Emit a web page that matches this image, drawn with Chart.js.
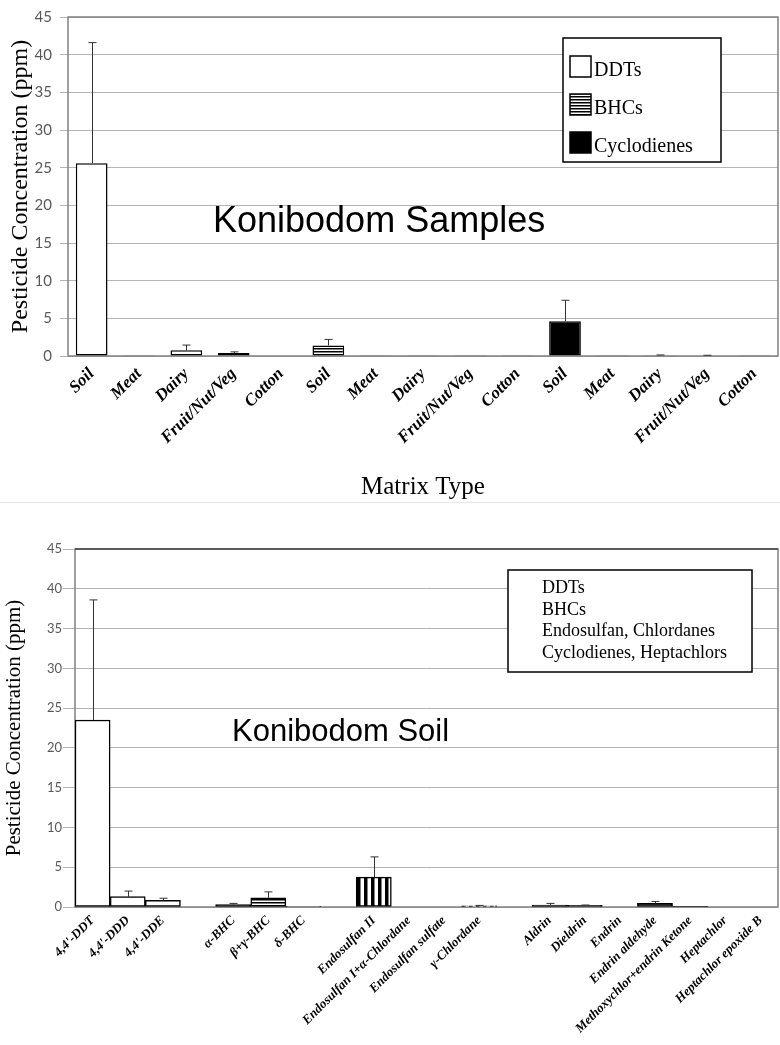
<!DOCTYPE html>
<html>
<head>
<meta charset="utf-8">
<script src="https://cdn.jsdelivr.net/npm/chart.js@4.4.0/dist/chart.umd.min.js"></script>
<style>
  body { margin: 0; background: #fff; }
  canvas { display: block; }
  .sep { height: 1px; background: #e8e8e8; }
</style>
</head>
<body>
<canvas id="samples" width="780" height="502"></canvas>
<div class="sep"></div>
<canvas id="soil" width="780" height="542"></canvas>
<script>
// ---- top chart: Konibodom samples ----
const matrixTypes = ['Soil', 'Meat', 'Dairy', 'Fruit/Nut/Veg', 'Cotton'];
const sampleLabels = matrixTypes.concat(matrixTypes, matrixTypes);
const ddtSamples = [25.6, 0.1, 0.75, 0.4, 0.05];
const ddtSamplesErr = [16.0, 0, 0.7, 0.15, 0];
const bhcSamples = [1.4, 0.02, 0.02, 0.02, 0.02];
const bhcSamplesErr = [0.8, 0, 0, 0, 0];
const cycloSamples = [4.6, 0.03, 0.1, 0.08, 0.02];
const cycloSamplesErr = [2.8, 0, 0.04, 0.02, 0];

// ---- bottom chart: Konibodom soil ----
const soilLabels = ["4,4'-DDT", "4,4'-DDD", "4,4'-DDE", '',
  'α-BHC', 'β+γ-BHC', 'δ-BHC', '',
  'Endosulfan II', 'Endosulfan I+α-Chlordane', 'Endosulfan sulfate', 'γ-Chlordane', '',
  'Aldrin', 'Dieldrin', 'Endrin', 'Endrin aldehyde', 'Methoxychlor+endrin Ketone', 'Heptachlor', 'Heptachlor epoxide B'];
const ddtSoil = [23.5, 1.3, 0.85];
const ddtSoilErr = [15.1, 0.7, 0.25];
const bhcSoil = [0.3, 1.15, 0.05];
const bhcSoilErr = [0.15, 0.75, 0];
const endoSoil = [3.75, 0, 0, 0.15];
const endoSoilErr = [2.55, 0, 0, 0.05];
const cycloSoil = [0.25, 0.2, 0, 0.45, 0.05, 0, 0];
const cycloSoilErr = [0.2, 0.05, 0, 0.25, 0, 0, 0];

// put a group's values at its position among the categories, null elsewhere
function place(vals, start, total) {
  const out = new Array(total).fill(null);
  vals.forEach((v, i) => out[start + i] = v);
  return out;
}

function stripes(horizontal, period, lineW) {
  const c = document.createElement('canvas');
  c.width = horizontal ? 4 : period;
  c.height = horizontal ? period : 4;
  const g = c.getContext('2d');
  g.fillStyle = '#fff';
  g.fillRect(0, 0, c.width, c.height);
  g.fillStyle = '#000';
  if (horizontal) g.fillRect(0, 0, c.width, lineW);
  else g.fillRect(0, 0, lineW, c.height);
  return g.createPattern(c, 'repeat');
}
const hStripes = stripes(true, 3.5, 1.5);
const vStripes = stripes(false, 7, 3.5);

const serif = 'Liberation Serif';

// frame around plot area
function framePlugin(topColor) {
  return {
    id: 'frame',
    beforeDatasetsDraw(chart) {
      const a = chart.chartArea, ctx = chart.ctx;
      ctx.save();
      ctx.strokeStyle = '#808080';
      ctx.lineWidth = 1.5;
      ctx.strokeRect(a.left, a.top, a.right - a.left, a.bottom - a.top);
      if (topColor) {
        ctx.strokeStyle = topColor;
        ctx.lineWidth = 2;
        ctx.beginPath();
        ctx.moveTo(a.left, a.top);
        ctx.lineTo(a.right, a.top);
        ctx.stroke();
      }
      ctx.restore();
    }
  };
}

// positive error bars
const errorPlugin = {
  id: 'errbars',
  afterDatasetsDraw(chart) {
    const ctx = chart.ctx, y = chart.scales.y;
    ctx.save();
    ctx.strokeStyle = '#333';
    ctx.lineWidth = 1;
    chart.data.datasets.forEach((ds, di) => {
      if (!ds.errors) return;
      const meta = chart.getDatasetMeta(di);
      ds.data.forEach((v, i) => {
        const e = ds.errors[i];
        if (v == null || !e) return;
        const bar = meta.data[i];
        const top = y.getPixelForValue(v + e);
        const x = Math.round(bar.x) + 0.5;
        ctx.beginPath();
        ctx.moveTo(x, bar.y);
        ctx.lineTo(x, top);
        ctx.moveTo(x - 4, top);
        ctx.lineTo(x + 4, top);
        ctx.stroke();
      });
    });
    ctx.restore();
  }
};

// title text and legend box inside the plot
function notesPlugin(o) {
  return {
    id: 'notes',
    afterDraw(chart) {
      const ctx = chart.ctx;
      ctx.save();
      ctx.fillStyle = '#000';
      ctx.textBaseline = 'alphabetic';
      ctx.textAlign = 'left';
      ctx.font = o.titleFont;
      ctx.fillText(o.title, o.titleX, o.titleY);
      const b = o.box;
      ctx.fillStyle = '#fff';
      ctx.fillRect(b.x, b.y, b.w, b.h);
      ctx.strokeStyle = '#000';
      ctx.lineWidth = 1.5;
      ctx.strokeRect(b.x, b.y, b.w, b.h);
      ctx.font = o.itemFont;
      o.items.forEach((it, i) => {
        const ty = o.itemY + i * o.itemStep;
        if (it.swatch) {
          ctx.fillStyle = it.swatch;
          ctx.fillRect(o.swatchX, ty - 20, 21, 21);
          ctx.strokeStyle = '#000';
          ctx.lineWidth = 1.5;
          ctx.strokeRect(o.swatchX, ty - 20, 21, 21);
        }
        ctx.fillStyle = '#000';
        ctx.fillText(it.text, o.textX, ty);
      });
      ctx.restore();
    }
  };
}

function barSet(label, data, errors, fill, pct) {
  return {
    label: label, data: data, errors: errors,
    backgroundColor: fill, borderColor: '#000', borderWidth: 1.5,
    borderSkipped: false, grouped: false,
    barPercentage: pct, categoryPercentage: 1
  };
}

function axes(opt) {
  return {
    x: {
      grid: { display: false, drawTicks: false },
      border: { display: false },
      ticks: {
        autoSkip: false, minRotation: 45, maxRotation: 45, padding: opt.xPad, color: '#000',
        font: { family: serif, size: opt.xSize, style: 'italic', weight: 'bold' }
      },
      title: opt.xTitle ? {
        display: true, text: opt.xTitle, color: '#000',
        font: { family: serif, size: 25 }, padding: { top: 0, bottom: 0 }
      } : { display: false },
      afterFit: s => { s.height = opt.xHeight; }
    },
    y: {
      min: 0, max: 45,
      ticks: { stepSize: 5, padding: opt.yPad, color: '#595959', font: { family: 'Lato', size: opt.ySize } },
      grid: { color: '#b4b4b4', tickLength: opt.tick },
      border: { display: false },
      title: {
        display: true, text: 'Pesticide Concentration (ppm)', color: '#000',
        font: { family: serif, size: opt.yTitleSize }, padding: { top: opt.yTitlePad, bottom: 0 }
      },
      afterFit: s => { s.width = opt.yWidth; }
    }
  };
}

const n1 = sampleLabels.length;
new Chart(document.getElementById('samples'), {
  type: 'bar',
  data: {
    labels: sampleLabels,
    datasets: [
      barSet('DDTs', place(ddtSamples, 0, n1), place(ddtSamplesErr, 0, n1), '#fff', 0.67),
      barSet('BHCs', place(bhcSamples, 5, n1), place(bhcSamplesErr, 5, n1), hStripes, 0.67),
      barSet('Cyclodienes', place(cycloSamples, 10, n1), place(cycloSamplesErr, 10, n1), '#000', 0.67)
    ]
  },
  options: {
    responsive: false, animation: false,
    layout: { padding: { top: 9, right: 2, left: 0, bottom: 0 } },
    plugins: { legend: { display: false }, tooltip: { enabled: false } },
    scales: axes({ xPad: 8, xSize: 17, xTitle: 'Matrix Type', xHeight: 146, yPad: 8, ySize: 15, tick: 8,
                   yTitleSize: 24, yTitlePad: 6, yWidth: 68 })
  },
  plugins: [framePlugin(null), errorPlugin, notesPlugin({
    title: 'Konibodom Samples', titleFont: '36px "Liberation Sans"', titleX: 213, titleY: 232,
    box: { x: 563, y: 38, w: 158, h: 124 },
    itemFont: '20px "' + serif + '"', itemY: 76, itemStep: 38, swatchX: 570, textX: 594,
    items: [{ text: 'DDTs', swatch: '#fff' }, { text: 'BHCs', swatch: hStripes }, { text: 'Cyclodienes', swatch: '#000' }]
  })]
});

const n2 = soilLabels.length;
new Chart(document.getElementById('soil'), {
  type: 'bar',
  data: {
    labels: soilLabels,
    datasets: [
      barSet('DDTs', place(ddtSoil, 0, n2), place(ddtSoilErr, 0, n2), '#fff', 1),
      barSet('BHCs', place(bhcSoil, 4, n2), place(bhcSoilErr, 4, n2), hStripes, 1),
      barSet('Endosulfan, Chlordanes', place(endoSoil, 8, n2), place(endoSoilErr, 8, n2), vStripes, 1),
      barSet('Cyclodienes, Heptachlors', place(cycloSoil, 13, n2), place(cycloSoilErr, 13, n2), '#000', 1)
    ]
  },
  options: {
    responsive: false, animation: false,
    layout: { padding: { top: 46, right: 2, left: 0, bottom: 0 } },
    plugins: { legend: { display: false }, tooltip: { enabled: false } },
    scales: axes({ xPad: 6, xSize: 13, xTitle: null, xHeight: 138, yPad: 1, ySize: 13, tick: 12,
                   yTitleSize: 21, yTitlePad: 2, yWidth: 75 })
  },
  plugins: [framePlugin('#5a5a5a'), errorPlugin, notesPlugin({
    title: 'Konibodom Soil', titleFont: '31px "Liberation Sans"', titleX: 232, titleY: 238,
    box: { x: 508, y: 67, w: 244, h: 102 },
    itemFont: '18px "' + serif + '"', itemY: 90, itemStep: 21.5, swatchX: 0, textX: 542,
    items: [{ text: 'DDTs' }, { text: 'BHCs' }, { text: 'Endosulfan, Chlordanes' }, { text: 'Cyclodienes, Heptachlors' }]
  })]
});
</script>
</body>
</html>
